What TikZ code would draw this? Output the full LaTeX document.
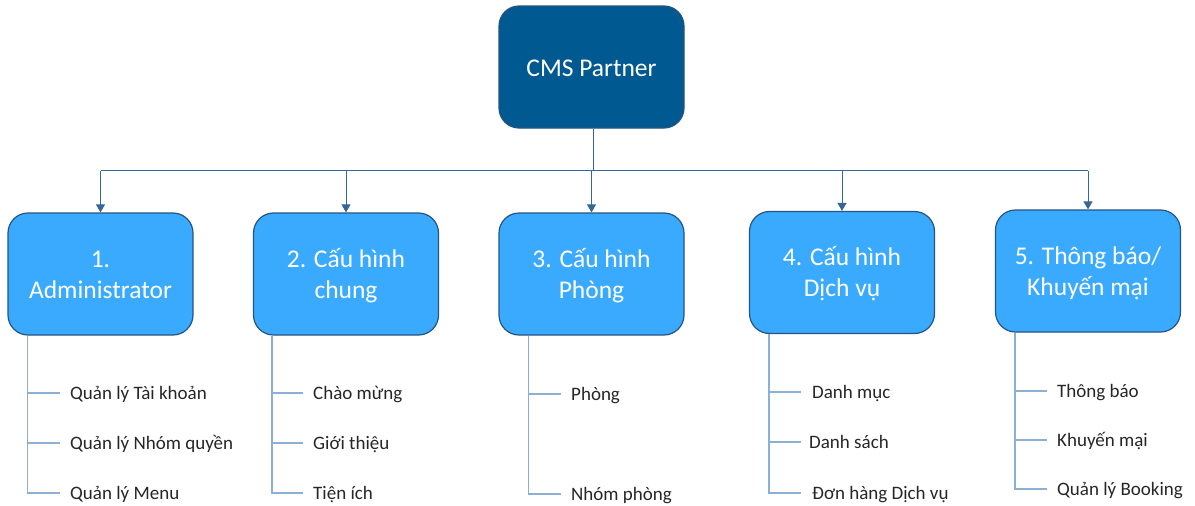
\documentclass[tikz,border=0pt]{standalone}
\usepackage{fontspec}
\setmainfont{Carlito}
\usetikzlibrary{arrows.meta,calc}

\definecolor{topfill}{RGB}{0,89,145}
\definecolor{boxfill}{RGB}{58,170,254}
\definecolor{boxline}{RGB}{38,84,128}
\definecolor{linkcol}{RGB}{52,102,152}
\definecolor{leafcol}{RGB}{140,176,212}
\definecolor{leaftext}{RGB}{38,38,38}

\tikzset{
  rootbox/.style={draw=boxline, line width=1.2pt, fill=topfill, rounded corners=20pt,
    minimum width=185pt, minimum height=122pt, inner sep=0pt, text=white,
    text height=23pt, text depth=5pt, font=\fontsize{25.5}{31}\selectfont},
  % two-line module boxes: height runs from the top to the last baseline
  modbox/.style={draw=boxline, line width=1.2pt, fill=boxfill, rounded corners=20pt,
    minimum width=185pt, minimum height=122pt, inner sep=0pt, text=white, align=center,
    text height=53pt, text depth=5pt, font=\fontsize{25.5}{31}\selectfont},
  leaf/.style={anchor=west, inner sep=0pt, text height=16pt, text depth=4pt,
    text=leaftext, font=\fontsize{19}{22}\selectfont},
  link/.style={draw=linkcol, line width=1pt},
  linkarrow/.style={link, -{Triangle[length=8pt,width=9pt]}},
  leafline/.style={draw=leafcol, line width=1.4pt},
}

\begin{document}
\begin{tikzpicture}[x=1pt, y=-1pt]
\useasboundingbox (0,0) rectangle (1195,506);

% root and the five modules
\node[rootbox] (root) at (591.5,67) {CMS Partner};
\node[modbox] (m1) at (100.5,274) {1.\\Administrator};
\node[modbox] (m2) at (346,274) {2. Cấu hình\\chung};
\node[modbox] (m3) at (591.5,274) {3. Cấu hình\\Phòng};
\node[modbox] (m4) at (842,272.5) {4. Cấu hình\\Dịch vụ};
\node[modbox] (m5) at (1088,271) {5. Thông báo/\\Khuyến mại};

% bus from the root to the modules
\coordinate (bus) at (593,170.5);
\draw[link] ([xshift=1.5pt]root.south) -- (bus);
\draw[link] (bus -| m1.north) -- (bus -| m5.north);
\foreach \m in {m1,m2,m3,m4,m5}
  \draw[linkarrow] (bus -| \m.north) -- (\m.north);

% leaves of module 1
\node[leaf] (l11) at (70,393) {Quản lý Tài khoản};
\node[leaf] (l12) at (70,443) {Quản lý Nhóm quyền};
\node[leaf] (l13) at (70,493) {Quản lý Menu};
% leaves of module 2
\node[leaf] (l21) at (313,393) {Chào mừng};
\node[leaf] (l22) at (313,443) {Giới thiệu};
\node[leaf] (l23) at (313,493) {Tiện ích};
% leaves of module 3
\node[leaf] (l31) at (571,394) {Phòng};
\node[leaf] (l32) at (571,494) {Nhóm phòng};
% leaves of module 4
\node[leaf] (l41) at (812,392) {Danh mục};
\node[leaf] (l42) at (809,442) {Danh sách};
\node[leaf] (l43) at (812,493) {Đơn hàng Dịch vụ};
% leaves of module 5
\node[leaf] (l51) at (1057,391) {Thông báo};
\node[leaf] (l52) at (1057,440) {Khuyến mại};
\node[leaf] (l53) at (1057,489) {Quản lý Booking};

% spines and branches
\coordinate (s1) at ([xshift=20pt]m1.south west);
\coordinate (s2) at ([xshift=19pt]m2.south west);
\coordinate (s3) at ([xshift=30pt]m3.south west);
\coordinate (s4) at ([xshift=20pt]m4.south west);
\coordinate (s5) at ([xshift=20pt]m5.south west);

\draw[leafline] (s1) |- ([xshift=-10pt]l13.west);
\foreach \l in {l11,l12} \draw[leafline] (s1 |- \l.west) -- ([xshift=-10pt]\l.west);
\draw[leafline] (s2) |- ([xshift=-10pt]l23.west);
\foreach \l in {l21,l22} \draw[leafline] (s2 |- \l.west) -- ([xshift=-10pt]\l.west);
\draw[leafline] (s3) |- ([xshift=-10pt]l32.west);
\draw[leafline] (s3 |- l31.west) -- ([xshift=-10pt]l31.west);
\draw[leafline] (s4) |- ([xshift=-11pt]l43.west);
\draw[leafline] (s4 |- l41.west) -- ([xshift=-11pt]l41.west);
\draw[leafline] (s4 |- l42.west) -- ([xshift=-8pt]l42.west);
\draw[leafline] (s5) |- ([xshift=-10pt]l53.west);
\foreach \l in {l51,l52} \draw[leafline] (s5 |- \l.west) -- ([xshift=-10pt]\l.west);
\end{tikzpicture}
\end{document}
